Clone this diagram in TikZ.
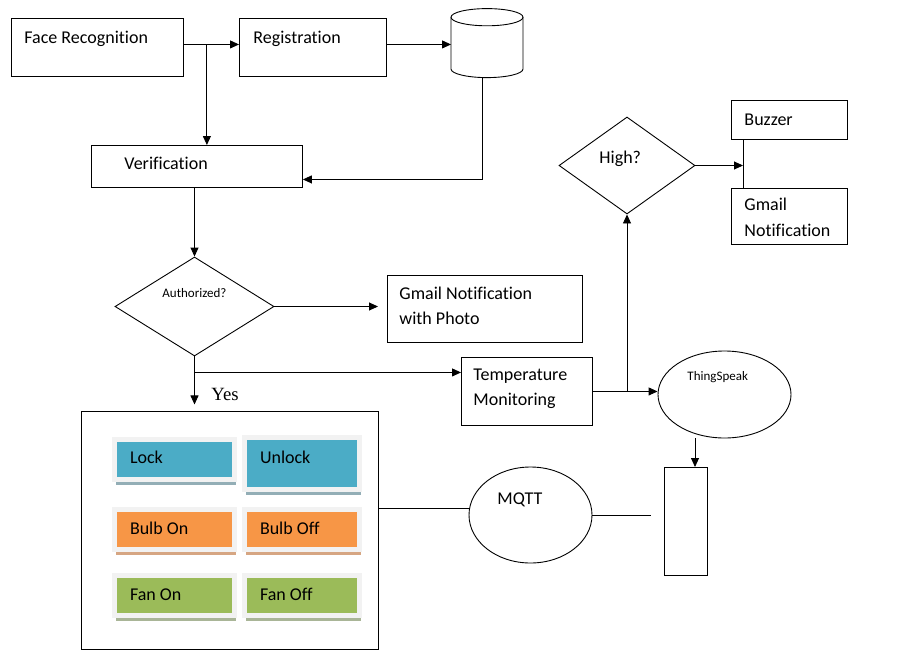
\documentclass[tikz,border=0pt]{standalone}
\usepackage{fontspec}
\setmainfont{Carlito}[Ligatures=NoCommon]
\newfontfamily\yesfont{Liberation Serif}
\usetikzlibrary{arrows.meta,shapes.geometric,shadows}
\definecolor{lockblue}{HTML}{4BACC6}
\definecolor{lockshade}{HTML}{93AEB6}
\definecolor{bulborange}{HTML}{F79646}
\definecolor{bulbshade}{HTML}{D6A683}
\definecolor{fangreen}{HTML}{9BBB59}
\definecolor{fanshade}{HTML}{A9B597}
\definecolor{btnframe}{HTML}{F2F2F2}
\tikzset{
  arr/.style={-{Triangle[length=9pt,width=8pt]}},
  blk/.style={draw,inner sep=0pt,anchor=north west},
  ell/.style={draw,ellipse,inner sep=0pt},
  dia/.style={draw,diamond,inner sep=0pt},
  txt/.style={inner sep=0pt,anchor=base west,align=flush left,font=\fontsize{18}{25.5}\selectfont},
  smalltxt/.style={txt,font=\fontsize{13}{15}\selectfont},
  btn/.style={draw=btnframe,line width=5pt,inner xsep=15.5pt,inner ysep=0pt,minimum height=40pt,
    align=flush left,text height=12.5pt,text depth=3.5pt,font=\fontsize{18}{20}\selectfont},
  lcol/.style={btn,minimum width=120pt,text width=89pt},
  rcol/.style={btn,minimum width=115pt,text width=84pt},
  bluebtn/.style={fill=lockblue,drop shadow={fill=lockshade,opacity=1,shadow xshift=1.5pt,shadow yshift=-5.5pt}},
  orangebtn/.style={fill=bulborange,drop shadow={fill=bulbshade,opacity=1,shadow xshift=1.5pt,shadow yshift=-5.5pt}},
  greenbtn/.style={fill=fangreen,drop shadow={fill=fanshade,opacity=1,shadow xshift=1.5pt,shadow yshift=-5.5pt}}
}
\begin{document}
\begin{tikzpicture}[x=1pt,y=-1pt,line width=0.9pt]
\useasboundingbox (0,0) rectangle (899,661);
% top row
\node[blk,minimum width=172pt,minimum height=58pt] (face) at (11,18) {};
\node[txt] (facet) at (24,43.7) {Face Recognition};
\node[blk,minimum width=147pt,minimum height=58pt] (reg) at (239,18) {};
\node[txt] (regt) at (253,43.7) {Registration};
\node[inner sep=0pt,minimum width=72pt,minimum height=69.6pt,anchor=north west] (db) at (451,8) {};
\draw (451,17.2) -- (451,69) arc[start angle=180,end angle=0,x radius=36,y radius=8.6] -- (523,17.2);
\draw (487,17.2) ellipse[x radius=36,y radius=8.6];
\coordinate (dbout) at (482,77.6);
% verification
\node[blk,minimum width=211pt,minimum height=42pt] (verif) at (91,145) {};
\node[txt] (verift) at (124,169) {Verification};
\node[dia,minimum width=159pt,minimum height=99pt] (auth) at (194.5,306.5) {};
\node[smalltxt] (autht) at (162,297) {Authorized?};
\node[blk,minimum width=195pt,minimum height=67pt] (photo) at (387,275) {};
\node[txt] (photot) at (399,324.5) {Gmail Notification\\with Photo};
\node[txt,font=\yesfont\fontsize{18.7}{20}\selectfont] (yest) at (211,400) {Yes};
% temperature
\node[blk,minimum width=131pt,minimum height=68pt] (temp) at (461,357) {};
\node[txt] (tempt) at (473,405.5) {Temperature\\Monitoring};
\node[ell,minimum width=133pt,minimum height=87pt] (ts) at (724.5,394.5) {};
\node[smalltxt] (tst) at (687,380) {ThingSpeak};
\node[dia,minimum width=136pt,minimum height=97pt] (high) at (627,165.5) {};
\node[txt] (hight) at (599,163) {High?};
\node[blk,minimum width=116pt,minimum height=39pt] (buzzer) at (731,100) {};
\node[txt] (buzzert) at (744,125) {Buzzer};
\node[blk,minimum width=116pt,minimum height=56pt] (gmail) at (731,188) {};
\node[txt] (gmailt) at (744,236) {Gmail\\Notification};
% devices
\node[blk,minimum width=297pt,minimum height=238pt] (panel) at (81,411) {};
\node[lcol,bluebtn] (lock) at (174.5,459) {Lock};
\node[rcol,bluebtn,minimum height=52pt,text depth=13.5pt] (unlock) at (302,463.5) {Unlock};
\node[lcol,orangebtn] (bulbon) at (174.5,529.5) {Bulb On};
\node[rcol,orangebtn] (bulboff) at (302,529.5) {Bulb Off};
\node[lcol,greenbtn] (fanon) at (174.5,595.5) {Fan On};
\node[rcol,greenbtn] (fanoff) at (302,595.5) {Fan Off};
\node[ell,minimum width=123pt,minimum height=96pt] (mqtt) at (530.5,515) {};
\node[txt] (mqttt) at (497,504) {MQTT};
\node[blk,minimum width=43pt,minimum height=108pt] (col) at (664,467) {};
\coordinate (mqout) at (651,515);
\coordinate (tsout) at (695,438);
% connectors
\coordinate (split) at ([xshift=23pt,yshift=3pt]face.east);
\draw[arr] ([yshift=3pt]face.east) -- ([yshift=3pt]reg.west);
\draw[arr] (split) -- (split |- verif.north);
\draw[arr] ([yshift=3pt]reg.east) -- ([yshift=3pt]reg.east -| db.west);
\draw[arr] (dbout) |- ([yshift=-13pt]verif.east);
\draw[arr] (verif.south -| auth.north) -- (auth.north);
\draw[arr,shorten >=9pt] (auth.east) -- (auth.east -| photo.west);
\draw[arr] (auth.south) -- ++(0,48);
\coordinate (tin) at ([yshift=19pt]temp.west);
\draw[arr] (auth.south |- tin) -- (tin);
\draw[arr] (temp.east) -- (temp.east -| ts.west);
\draw[arr] (high.south |- temp.east) -- (high.south);
\coordinate (bus) at ([xshift=12pt]buzzer.south west);
\draw[arr] (high.east) -- (high.east -| bus);
\draw (bus) -- (bus |- gmail.north);
\draw[arr] (tsout) -- (tsout |- col.north);
\draw (panel.east |- mqtt.174) -- (mqtt.174);
\draw (mqtt.east) -- (mqout);
\end{tikzpicture}
\end{document}
